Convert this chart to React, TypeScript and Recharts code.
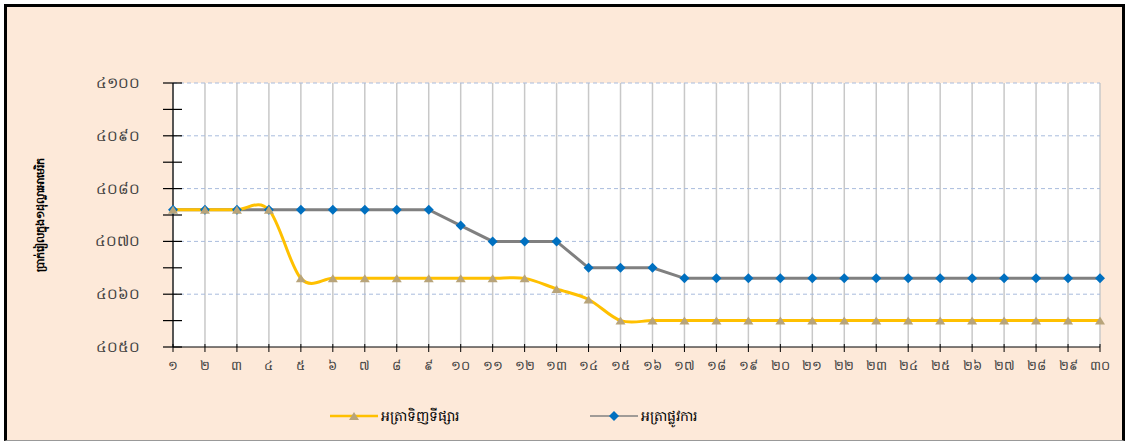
import React from 'react';
import { LineChart, Line, CartesianGrid, XAxis, YAxis, Label } from 'recharts';

// days of the month, 1..30
const days = [1, 2, 3, 4, 5, 6, 7, 8, 9, 10, 11, 12, 13, 14, 15, 16, 17, 18, 19, 20, 21, 22, 23, 24, 25, 26, 27, 28, 29, 30];

// market buying rate (riel per USD)
const marketRate = [
  4076, 4076, 4076, 4076, 4063, 4063, 4063, 4063, 4063, 4063,
  4063, 4063, 4061, 4059, 4055, 4055, 4055, 4055, 4055, 4055,
  4055, 4055, 4055, 4055, 4055, 4055, 4055, 4055, 4055, 4055,
];

// official rate
const officialRate = [
  4076, 4076, 4076, 4076, 4076, 4076, 4076, 4076, 4076, 4073,
  4070, 4070, 4070, 4065, 4065, 4065, 4063, 4063, 4063, 4063,
  4063, 4063, 4063, 4063, 4063, 4063, 4063, 4063, 4063, 4063,
];

const yTicks = [4050, 4055, 4060, 4065, 4070, 4075, 4080, 4085, 4090, 4095, 4100];
const yMajor = [4050, 4060, 4070, 4080, 4090, 4100];

const seriesNames = { market: 'អត្រាទិញទីផ្សារ', official: 'អត្រាផ្លូវការ' };
const yTitle = 'ប្រាក់រៀលក្នុង១ដុល្លារអាមេរិក';

const data = days.map((d, i) => ({ day: d, market: marketRate[i], official: officialRate[i] }));

const FONT = '"Noto Sans", "DejaVu Sans", sans-serif';
const YELLOW = '#FFC000';
const TRI = '#B8A47A';
const GREY = '#808080';
const BLUE = '#0070C0';

const khmerDigits = '០១២៣៤៥៦៧៨៩';
const toKhmer = (n: number) => String(n).replace(/\d/g, (c) => khmerDigits[+c]);

// Excel-like smoothed line (Catmull-Rom through the points)
function excelSmooth(context: any) {
  let pts: [number, number][] = [];
  return {
    areaStart() {},
    areaEnd() {},
    lineStart() {
      pts = [];
    },
    lineEnd() {
      if (!pts.length) return;
      context.moveTo(pts[0][0], pts[0][1]);
      for (let i = 0; i < pts.length - 1; i++) {
        const p0 = pts[i - 1] || pts[i];
        const p1 = pts[i];
        const p2 = pts[i + 1];
        const p3 = pts[i + 2] || p2;
        context.bezierCurveTo(
          p1[0] + (p2[0] - p0[0]) / 6,
          p1[1] + (p2[1] - p0[1]) / 6,
          p2[0] - (p3[0] - p1[0]) / 6,
          p2[1] - (p3[1] - p1[1]) / 6,
          p2[0],
          p2[1]
        );
      }
    },
    point(x: number, y: number) {
      pts.push([+x, +y]);
    },
  };
}

const Triangle = (props: any) => {
  const { cx, cy } = props;
  if (cx == null || cy == null) return null;
  return <path d={`M${cx},${cy - 4} L${cx + 5},${cy + 4} L${cx - 5},${cy + 4} Z`} fill={TRI} />;
};

const Diamond = (props: any) => {
  const { cx, cy } = props;
  if (cx == null || cy == null) return null;
  return <path d={`M${cx},${cy - 5} L${cx + 5},${cy} L${cx},${cy + 5} L${cx - 5},${cy} Z`} fill={BLUE} />;
};

const YTick = (props: any) => {
  const { x, y, payload } = props;
  const major = yMajor.includes(payload.value);
  return (
    <g>
      <line x1={x - 10} x2={x + 9} y1={y} y2={y} stroke="#000" strokeWidth={1.2} />
      {major && (
        <text x={x - 33} y={y} dy={5} textAnchor="end" fontSize={15} fill="#404040" fontFamily={FONT}>
          {toKhmer(payload.value)}
        </text>
      )}
    </g>
  );
};

const XTick = (props: any) => {
  const { x, y, payload } = props;
  return (
    <g>
      <line x1={x} x2={x} y1={y - 3} y2={y + 5} stroke="#000" strokeWidth={1} />
      <text x={x} y={y + 23} textAnchor="middle" fontSize={13} fill="#404040" fontFamily={FONT}>
        {toKhmer(payload.value)}
      </text>
    </g>
  );
};

const ChartLegend = () => (
  <svg width={500} height={24} style={{ position: 'absolute', left: 320, top: 404, overflow: 'visible' }}>
    <line x1={10} x2={58} y1={12} y2={12} stroke={YELLOW} strokeWidth={2.5} />
    <Triangle cx={34} cy={12} />
    <text x={61} y={17} fontSize={14} fill="#000" fontFamily={FONT}>{seriesNames.market}</text>
    <line x1={270} x2={318} y1={12} y2={12} stroke={GREY} strokeWidth={1.5} />
    <Diamond cx={294} cy={12} />
    <text x={321} y={17} fontSize={14} fill="#000" fontFamily={FONT}>{seriesNames.official}</text>
  </svg>
);

export default function App() {
  return (
    <div style={{ position: 'relative', width: 1129, height: 443, background: '#fff' }}>
      <style>{'body{margin:0}'}</style>
      <div
        style={{
          position: 'absolute',
          left: 4,
          top: 4,
          width: 1121,
          height: 437,
          boxSizing: 'border-box',
          borderTop: '3px solid #000',
          borderLeft: '3px solid #000',
          borderRight: '3px solid #000',
          borderBottom: '1px solid #999',
          background: '#FDE9D9',
        }}
      />
      <div style={{ position: 'absolute', left: 0, top: 0 }}>
        <LineChart width={1129} height={443} data={data} margin={{ top: 83, right: 29, bottom: 66, left: 0 }}>
          <CartesianGrid horizontal={false} stroke="#C8C8C8" strokeWidth={1.5} fill="#fff" />
          <CartesianGrid
            vertical={false}
            horizontalValues={yMajor.slice(1)}
            stroke="#A9BCDD"
            strokeDasharray="4 3"
          />
          <XAxis
            dataKey="day"
            height={30}
            axisLine={{ stroke: '#000', strokeWidth: 1.2 }}
            tickLine={false}
            tickSize={0}
            tickMargin={0}
            interval={0}
            tick={<XTick />}
          />
          <YAxis
            domain={[4050, 4100]}
            ticks={yTicks}
            width={173}
            axisLine={{ stroke: '#000', strokeWidth: 1.2 }}
            tickLine={false}
            tickSize={0}
            tickMargin={0}
            interval={0}
            tick={<YTick />}
          >
            <Label
              content={(p: any) => {
                const vb = p.viewBox;
                const cx = vb.x + 40;
                const cy = vb.y + vb.height / 2;
                return (
                  <text
                    x={cx}
                    y={cy}
                    transform={`rotate(-90 ${cx} ${cy})`}
                    textAnchor="middle"
                    dy={4}
                    fontSize={11}
                    fontWeight="bold"
                    fill="#000"
                    fontFamily={FONT}
                  >
                    {yTitle}
                  </text>
                );
              }}
            />
          </YAxis>
          <Line
            dataKey="official"
            name={seriesNames.official}
            type="linear"
            stroke={GREY}
            strokeWidth={3}
            dot={<Diamond />}
            activeDot={false}
            isAnimationActive={false}
          />
          <Line
            dataKey="market"
            name={seriesNames.market}
            type={excelSmooth as any}
            stroke={YELLOW}
            strokeWidth={3}
            dot={<Triangle />}
            activeDot={false}
            isAnimationActive={false}
          />
        </LineChart>
      </div>
      <ChartLegend />
    </div>
  );
}
